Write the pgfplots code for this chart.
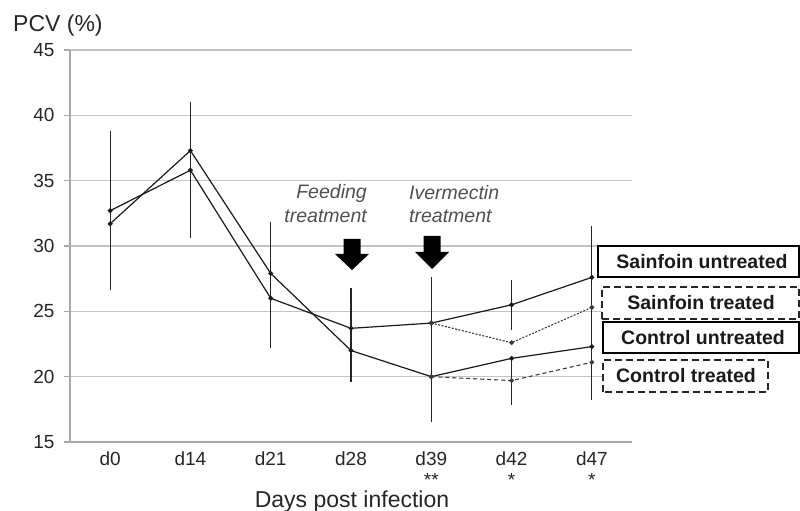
\documentclass[border=0pt]{standalone}
\usepackage{pgfplots}
\pgfplotsset{compat=1.18}
\usepackage{fontspec}
\setmainfont{Liberation Sans}
\definecolor{gridc}{HTML}{C4C4C4}
\definecolor{axisc}{HTML}{A8A8A8}
\definecolor{txt}{HTML}{262626}
\definecolor{ln}{HTML}{1A1A1A}
\definecolor{annot}{HTML}{505050}
\begin{document}
\begin{tikzpicture}
\begin{axis}[
  at={(0pt,0pt)}, anchor=south west,
  scale only axis, width=562pt, height=392pt,
  xmin=-0.5, xmax=6.5, ymin=15, ymax=45,
  axis lines*=left,
  axis line style={axisc, line width=1.3pt},
  ymajorgrids, grid style={gridc, line width=1.2pt},
  ytick={15,20,...,45},
  xtick={0,...,6},
  xticklabels={d0,d14,d21,d28,d39,d42,d47},
  tick align=outside, major tick length=6pt,
  ytick style={axisc, line width=1.2pt},
  xtick style={draw=none},
  tick label style={font=\fontsize{19}{22}\selectfont, text=txt},
  yticklabel style={xshift=-6pt},
  /pgf/number format/assume math mode=true,
  clip=false,
]
\addplot[ln, line width=1.2pt, mark=*, mark size=1.8pt,
  error bars/.cd, y dir=both, y explicit,
  error bar style={line width=1.2pt, color=txt}, error mark=none]
  table[x=x, y=y, y error=e] {
x y e
0 32.7 6.1
1 35.8 5.2
2 26.0 3.8
3 23.7 3.1
4 24.1 3.5
5 25.5 1.9
6 27.6 3.9
};
\addplot[ln, line width=1.2pt, mark=*, mark size=1.8pt,
  error bars/.cd, y dir=both, y explicit,
  error bar style={line width=1.2pt, color=txt}, error mark=none]
  table[x=x, y=y, y error=e] {
x y e
0 31.7 5.0
1 37.3 3.7
2 27.9 3.9
3 22.0 2.4
4 20.0 3.5
5 21.4 0
6 22.3 0
};
\addplot[ln!85, line width=1.1pt, dash pattern=on 2pt off 1.5pt, mark=*, mark size=1.8pt, mark options={solid}]
  table[x=x, y=y] {
x y
4 24.1
5 22.6
6 25.3
};
\addplot[ln!85, line width=1.1pt, dash pattern=on 4pt off 3pt, mark=*, mark size=1.8pt, mark options={solid},
  error bars/.cd, y dir=both, y explicit,
  error bar style={line width=1.2pt, color=txt, solid}, error mark=none]
  table[x=x, y=y, y error=e] {
x y e
4 20.0 0
5 19.7 1.9
6 21.1 2.9
};
\node[font=\fontsize{19}{20}\selectfont, text=txt, inner sep=0pt, anchor=base] at (axis cs:4,15) [yshift=-44pt] {**};
\node[font=\fontsize{19}{20}\selectfont, text=txt, inner sep=0pt, anchor=base] at (axis cs:5,15) [yshift=-44pt] {*};
\node[font=\fontsize{19}{20}\selectfont, text=txt, inner sep=0pt, anchor=base] at (axis cs:6,15) [yshift=-44pt] {*};
\end{axis}
% y axis title
\node[anchor=base west, font=\fontsize{23}{26}\selectfont, text=txt, inner sep=0pt] at (-57pt,410pt) {PCV (\%)};
% x axis title
\node[anchor=base, font=\fontsize{23}{26}\selectfont, text=txt, inner sep=0pt] at (282pt,-65pt) {Days post infection};
% annotations
\node[anchor=base east, font=\fontsize{19.5}{22}\selectfont\itshape, text=annot, inner sep=0pt] at (297pt,243pt) {Feeding};
\node[anchor=base east, font=\fontsize{19.5}{22}\selectfont\itshape, text=annot, inner sep=0pt] at (297pt,219pt) {treatment};
\node[anchor=base west, font=\fontsize{19.5}{22}\selectfont\itshape, text=annot, inner sep=0pt] at (339pt,242pt) {Ivermectin};
\node[anchor=base west, font=\fontsize{19.5}{22}\selectfont\itshape, text=annot, inner sep=0pt] at (339pt,219pt) {treatment};
% arrows
\fill[black] (273.5pt,203pt) -- (290.5pt,203pt) -- (290.5pt,188pt) -- (299pt,188pt) -- (282pt,172pt) -- (265pt,188pt) -- (273.5pt,188pt) -- cycle;
\fill[black] (353.5pt,206pt) -- (370.5pt,206pt) -- (370.5pt,190pt) -- (379pt,190pt) -- (362pt,173pt) -- (345pt,190pt) -- (353.5pt,190pt) -- cycle;
% legend boxes
\draw[black, line width=1.8pt, fill=white] (528pt,165pt) rectangle (729pt,196pt);
\node[font=\fontsize{19.5}{22}\selectfont\bfseries, text=ln] at (632pt,180pt) {Sainfoin untreated};
\draw[black!85, line width=1.8pt, dash pattern=on 7pt off 4pt, fill=white] (532pt,123pt) rectangle (729pt,155pt);
\node[font=\fontsize{19.5}{22}\selectfont\bfseries, text=ln] at (631pt,139pt) {Sainfoin treated};
\draw[black, line width=1.8pt, fill=white] (533pt,89pt) rectangle (729pt,120pt);
\node[font=\fontsize{19.5}{22}\selectfont\bfseries, text=ln] at (633pt,104pt) {Control untreated};
\draw[black!85, line width=1.8pt, dash pattern=on 7pt off 4pt, fill=white] (533pt,50pt) rectangle (698pt,82pt);
\node[font=\fontsize{19.5}{22}\selectfont\bfseries, text=ln] at (616pt,66pt) {Control treated};
\pgfresetboundingbox
\path[use as bounding box] (-70pt,-69pt) rectangle (730pt,442pt);
\end{tikzpicture}
\end{document}
